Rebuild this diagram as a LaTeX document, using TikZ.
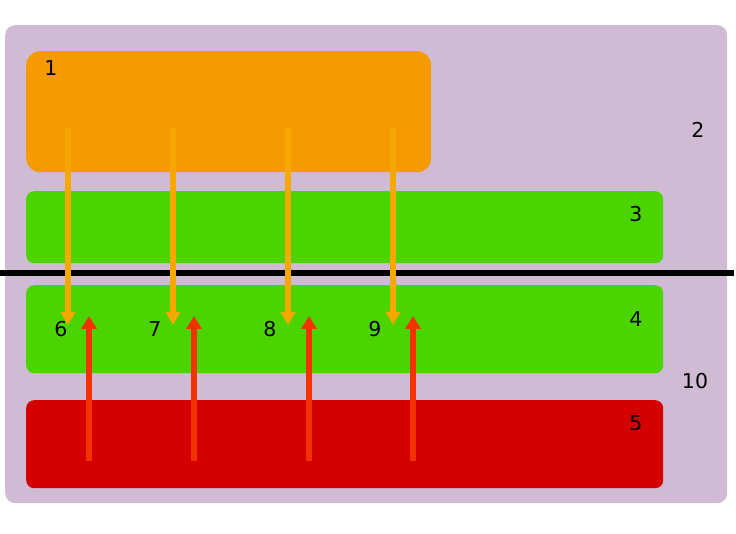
\documentclass[tikz,border=0pt]{standalone}
\usepackage{fontspec}
\setmainfont{DejaVu Sans}
\usetikzlibrary{arrows.meta, positioning}
\definecolor{lilac}{RGB}{207,187,211}
\definecolor{boxorange}{RGB}{245,154,0}
\definecolor{boxgreen}{RGB}{76,212,0}
\definecolor{boxred}{RGB}{212,0,0}
\definecolor{arrorange}{RGB}{246,168,0}
\definecolor{arrred}{RGB}{244,50,0}

\begin{document}
\begin{tikzpicture}[
    x=1pt, y=-1pt,
    box/.style={rectangle, draw=none, anchor=north west, inner sep=0pt},
    num/.style={font=\fontsize{20.5}{24}\selectfont, inner sep=0pt},
    down/.style={-{Triangle[length=13pt, width=14pt]}, line width=5.5pt, draw=arrorange},
    up/.style={-{Triangle[length=13pt, width=15pt]}, line width=5.5pt, draw=arrred}
]
\useasboundingbox (0,0) rectangle (736,534);
\node[box, fill=lilac, rounded corners=10pt, minimum width=722pt, minimum height=478pt] (back) at (5,25) {};
\node[box, fill=boxorange, rounded corners=14pt, minimum width=405pt, minimum height=121pt] (top) at (26,51) {};
\node[box, fill=boxgreen, rounded corners=8pt, minimum width=637pt, minimum height=72pt] (upper) at (26,191) {};
\node[box, fill=boxgreen, rounded corners=8pt, minimum width=637pt, minimum height=88pt] (lower) at (26,285) {};
\node[box, fill=boxred, rounded corners=8pt, minimum width=637pt, minimum height=88pt] (bottom) at (26,400) {};

% dividing line
\coordinate (lineL) at (0,273);
\coordinate (lineR) at (734,273);
\draw[line width=6pt] (lineL) -- (lineR);

% arrows across the line
\foreach \i/\x in {1/68, 2/173, 3/288, 4/393} {
    \coordinate (os\i) at (\x,128);
    \coordinate (oe\i) at (\x,325);
    \draw[down] (os\i) -- (oe\i);
}
\foreach \i/\x in {1/89, 2/194, 3/309, 4/413} {
    \coordinate (rs\i) at (\x,461);
    \coordinate (re\i) at (\x,316);
    \draw[up] (rs\i) -- (re\i);
}

% labels
\node[num] (n1) at (51,68) {1};
\node[num] (n2) at (698,130) {2};
\node[num] (n3) at (636,214) {3};
\node[num] (n4) at (636,319) {4};
\node[num] (n5) at (636,423) {5};
\node[num] (n6) at (61,329) {6};
\node[num] (n7) at (155,329) {7};
\node[num] (n8) at (270,329) {8};
\node[num] (n9) at (375,329) {9};
\node[num] (n10) at (695,381) {10};
\end{tikzpicture}
\end{document}
